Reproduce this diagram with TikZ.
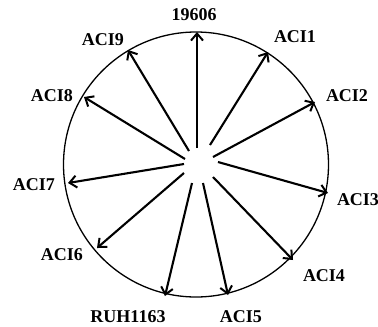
\documentclass[tikz,border=0pt]{standalone}
\usepackage{fontspec}
\setmainfont{Liberation Serif}
\usetikzlibrary{arrows.meta}
\begin{document}
\begin{tikzpicture}[x=1pt,y=-1pt,
  lbl/.style={font=\fontsize{18}{18}\selectfont\bfseries, inner sep=0pt},
  ray/.style={line width=2.1pt, -{Straight Barb[length=7pt,width=12pt,line width=2pt]}}]
\useasboundingbox (0,0) rectangle (378,327);
\node[draw, circle, line width=1.3pt, minimum size=265pt, inner sep=0pt] (ring) at (196,164.5) {};
% start points
\coordinate (s0) at (197,148);
\coordinate (s1) at (210,145);
\coordinate (s2) at (213,157);
\coordinate (s3) at (218,162);
\coordinate (s4) at (213,177);
\coordinate (s5) at (203,183);
\coordinate (s6) at (192,183);
\coordinate (s7) at (184,173);
\coordinate (s8) at (184,164);
\coordinate (s9) at (185,159);
\coordinate (s10) at (189,151);
% end points on the ring
\coordinate (e0) at (197,32);
\coordinate (e1) at (268,52);
\coordinate (e2) at (315,102);
\coordinate (e3) at (328,193);
\coordinate (e4) at (293,260);
\coordinate (e5) at (228,295);
\coordinate (e6) at (165,296);
\coordinate (e7) at (97,248);
\coordinate (e8) at (68,183);
\coordinate (e9) at (84,97);
\coordinate (e10) at (128,50);
\foreach \i in {0,...,10} \draw[ray] (s\i) -- (e\i);
% labels
\node[lbl] (l0) at (194,15) {19606};
\node[lbl] (l1) at (295,37) {ACI1};
\node[lbl] (l2) at (347,96) {ACI2};
\node[lbl] (l3) at (358,200) {ACI3};
\node[lbl] (l4) at (324,276) {ACI4};
\node[lbl] (l5) at (241,317) {ACI5};
\node[lbl] (l6) at (128,317) {RUH1163};
\node[lbl] (l7) at (62,255) {ACI6};
\node[lbl] (l8) at (34,185) {ACI7};
\node[lbl] (l9) at (52,96) {ACI8};
\node[lbl] (l10) at (103,40) {ACI9};
\end{tikzpicture}
\end{document}
